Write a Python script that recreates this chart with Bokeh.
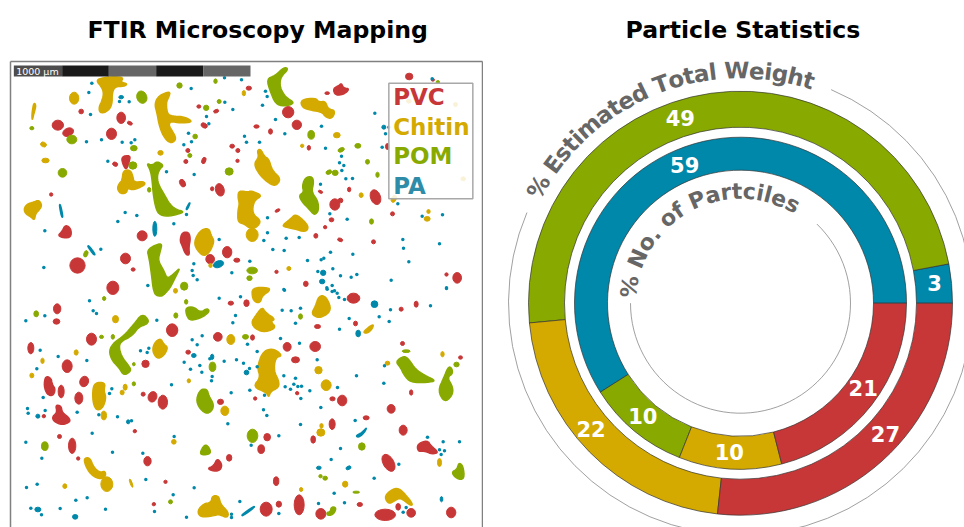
from math import cos, sin, radians, pi
from bokeh.core.properties import value
from bokeh.embed import file_html
from bokeh.layouts import row
from bokeh.models import ColumnDataSource, FixedTicker, LinearAxis, Range1d
from bokeh.plotting import figure
from bokeh.resources import INLINE

# ---- categories and colours
CATEGORIES = ["PA", "POM", "Chitin", "PVC"]
COLORS = {"PVC": "#c83737", "Chitin": "#d4aa00", "POM": "#88aa00", "PA": "#0088aa"}
LEGEND_ORDER = ["PVC", "Chitin", "POM", "PA"]
LEGEND_COLORS = ["#c83737", "#d4aa00", "#88aa00", "#2f8ca8"]
LEGEND_Y = [138, 228, 316, 405]

# ---- donut values (same order as CATEGORIES)
WEIGHT_VALUES = [3, 49, 22, 27]
COUNT_VALUES = [59, 10, 10, 21]
WEIGHT_LABEL_ANGLES = [5.9, 108, 220, 318]
COUNT_LABEL_ANGLES = [112, 229, 265.7, 325.4]
WEIGHT_TITLE = "% Estimated Total Weight"
COUNT_TITLE = "% No. of Partciles"

# ---- map tiles (units: 1/3 px, measured within each tile)
NW, NE, SW, SE = (0, 150), (720, 150), (0, 861), (720, 861)


def el(tile, items):
    return [(x + tile[0], y + tile[1], w, h, (rest[0] if rest else 0)) for x, y, w, h, *rest in items]


def dots(tile, items):
    return [(x + tile[0], y + tile[1]) for x, y in items]


def polys(tile, items):
    return [[(x + tile[0], y + tile[1]) for x, y in poly] for poly in items]


PVC_ELLIPSES = el(NW, [(172,224,34,30),(203,245,34,24,25),(242,183,14,14),(333,250,30,34),(362,202,26,34),(388,218,16,10,-25),(344,341,16,12,-25),(152,432,10,10),(546,398,16,24,25),(658,418,26,38,15),(635,415,10,12),(425,556,30,30),(231,645,46,46),(375,624,30,32),(398,657,12,10),(629,626,26,28),(680,605,28,34),(709,629,18,12),(337,712,36,40),(595,168,12,10),(647,182,16,10,20),(611,225,20,14,-30),(562,300,12,12),(556,333,12,12),(610,330,12,20,-20),(695,287,14,12),(712,300,12,12),(711,331,10,10)]) \
    + el(NE, [(143,185,34,34),(169,223,28,28),(260,128,14,8),(48,228,16,10),(90,243,12,16),(25,113,16,12),(205,292,10,14),(506,78,22,20),(577,88,10,8),(441,288,12,18),(405,440,30,46,20),(326,417,10,14),(240,424,14,8,-25),(283,462,30,34),(300,450,14,14),(273,508,14,12),(254,530,10,10),(456,490,12,12),(111,480,16,8,25),(226,556,12,14),(299,568,16,10,-20),(399,574,12,12),(108,664,10,10),(196,700,14,16),(650,682,26,32),(618,672,10,10)]) \
    + el(SW, [(170,64,22,30),(168,102,20,16),(273,155,30,36),(91,182,18,34),(515,128,34,38),(652,148,26,26),(563,194,14,12),(435,229,22,22),(200,236,30,38),(182,312,18,38),(251,282,26,32,-20),(235,332,24,36),(130,386,10,10),(428,320,12,12),(456,328,26,32,-20),(487,344,28,42),(660,343,18,16),(403,431,10,10),(177,447,12,12),(215,475,22,46),(233,513,10,10),(441,521,22,28),(495,583,10,10),(460,650,10,10),(686,511,16,20),(691,47,16,12)]) \
    + el(SE, [(18,47,16,20),(339,32,38,30),(527,50,12,18),(482,65,12,12),(231,117,18,12),(345,108,12,14),(36,150,12,16),(140,178,24,26),(224,177,32,30),(165,217,24,18),(486,168,12,12),(660,210,12,10),(512,315,10,16),(170,317,10,10),(44,333,10,10),(276,334,16,12),(305,339,28,32),(452,364,24,26),(377,391,18,12),(275,410,18,32),(218,456,14,22),(488,428,24,30),(80,449,20,22),(62,485,20,26),(444,526,32,56,30),(107,581,16,26),(632,675,28,32),(77,665,36,42),(115,650,16,18),(176,652,30,60),(241,679,30,32),(358,651,16,12),(434,682,62,34),(473,658,14,20),(512,676,26,26)])
PVC_POLYGONS = polys(NW, [[(362,318),(390,314),(386,335),(378,358),(368,345)],[(545,545),(565,545),(570,565),(565,590),(567,615),(555,612),(545,585),(538,570)],[(195,522),(212,535),(212,560),(190,563),(172,555),(183,545)]]) \
    + polys(NE, [[(277,115),(295,105),(303,98),(308,112),(328,115),(310,132),(285,135)]]) \
    + polys(SW, [[(135,265),(152,272),(155,290),(165,305),(158,325),(140,322),(130,295)],[(165,352),(182,355),(185,375),(205,390),(210,403),(185,413),(160,402),(155,388),(170,375)],[(650,512),(665,530),(660,548),(640,552),(620,543),(640,535)]]) \
    + polys(SE, [[(530,470),(560,458),(572,475),(595,495),(575,500),(550,490),(532,492)]])

CHITIN_ELLIPSES = el(NW, [(221,143,28,36),(129,282,18,14,-25),(135,330,22,14),(480,307,16,14),(630,645,10,12)]) \
    + el(NE, [(10,128,10,16),(289,254,20,16),(185,286,10,10),(35,553,36,40),(362,434,12,14),(145,654,12,12),(560,505,18,14),(564,483,10,12),(460,445,14,22,-25),(505,152,14,12),(645,162,12,12),(668,385,14,12)]) \
    + el(SW, [(525,10,12,14),(345,95,18,22),(227,195,12,16),(126,220,10,16),(94,264,12,14),(310,384,16,26),(374,299,12,18),(365,315,12,14),(691,156,24,30),(673,370,24,28),(565,280,10,12),(520,463,14,14),(193,596,12,14),(392,587,6,26,20),(319,590,36,44)]) \
    + el(SE, [(234,248,22,22),(257,293,30,32),(441,227,14,12),(606,200,10,16),(243,415,10,14),(241,435,24,22),(314,590,16,18),(182,606,10,12),(597,525,12,24)])
CHITIN_POLYGONS = polys(NW, [[(292,85),(330,78),(370,80),(360,95),(382,100),(370,108),(345,108),(335,125),(335,165),(318,185),(298,188),(295,170),(305,150),(310,125),(300,105),(290,95)],[(462,160),(475,135),(510,122),(505,140),(497,155),(500,190),(515,197),(545,198),(565,205),(575,215),(540,218),(510,212),(505,225),(515,240),(528,265),(515,278),(500,272),(485,250),(475,220),(470,190)],[(368,360),(390,358),(398,380),(400,395),(430,393),(435,402),(410,415),(392,418),(382,412),(378,428),(360,430),(350,415),(355,400),(365,390)],[(70,475),(80,460),(100,455),(115,448),(125,465),(115,480),(105,490),(102,510),(90,498),(75,490)],[(598,540),(625,532),(632,555),(642,572),(628,605),(610,618),(590,600),(580,575)],[(100,155),(107,165),(100,190),(95,212),(94,190)]]) \
    + polys(NE, [[(180,148),(225,142),(235,155),(255,152),(262,175),(285,180),(275,205),(255,200),(245,185),(215,180),(185,172)],[(50,300),(60,295),(72,318),(85,325),(95,360),(122,385),(105,408),(80,395),(55,370),(40,340),(55,320)],[(-5,420),(25,425),(30,420),(67,435),(40,450),(35,490),(62,510),(50,530),(30,535),(10,520),(-8,515),(-8,480),(-3,460),(-8,440)],[(125,525),(150,505),(165,490),(190,510),(205,530),(195,545),(160,535),(135,530)]]) \
    + polys(SW, [[(283,285),(315,285),(310,310),(317,330),(308,360),(290,370),(278,350),(276,310)],[(462,165),(480,152),(490,170),(503,180),(490,205),(470,215),(455,190)],[(250,512),(268,510),(280,540),(298,555),(315,550),(315,570),(295,575),(270,560),(255,535)],[(590,670),(610,648),(632,645),(635,625),(655,625),(660,650),(685,675),(680,692),(655,680),(640,685),(600,690)]]) \
    + polys(SE, [[(35,0),(85,0),(88,10),(65,25),(60,45),(45,45),(35,30)],[(45,85),(65,58),(75,75),(105,95),(90,102),(108,120),(75,135),(45,125),(32,105)],[(235,25),(255,25),(272,60),(262,80),(235,92),(212,80),(225,55)],[(367,135),(385,118),(400,110),(395,125),(380,138)],[(65,195),(90,183),(110,190),(125,205),(105,210),(100,250),(115,280),(115,300),(90,312),(85,330),(78,315),(37,298),(60,270),(50,240)],[(432,630),(445,612),(470,600),(490,615),(518,650),(510,655),(480,630),(462,640),(445,650)]])

POM_ELLIPSES = el(NW, [(424,140,30,38,20),(214,267,30,26),(186,367,26,26),(400,293,20,16),(397,345,24,22),(537,105,16,16),(617,172,16,16),(656,153,12,12),(645,92,10,14),(584,258,14,14),(568,315,12,12),(686,363,24,22),(446,418,10,14),(94,233,12,10),(256,610,12,20,-20),(551,707,22,24)]) \
    + el(NE, [(212,253,20,26),(302,298,20,12,25),(352,286,18,14),(381,334,12,14),(411,373,10,16),(265,365,18,12,25),(284,367,18,16),(393,513,12,16),(592,95,10,10),(35,660,32,20),(27,683,16,14)]) \
    + el(SW, [(107,79,14,18),(311,33,10,12),(303,148,12,10),(337,148,10,14),(526,84,12,16),(557,43,10,14),(400,289,10,12),(133,476,20,26),(636,238,20,28),(510,643,12,12),(400,230,8,10)]) \
    + el(SE, [(180,87,12,16),(15,148,18,14),(497,191,24,8),(648,231,16,14),(36,445,32,40),(364,477,20,22),(240,566,10,10),(254,572,14,12),(347,614,20,6)])
POM_POLYGONS = polys(NW, [[(438,338),(455,345),(470,332),(490,345),(478,355),(470,375),(473,400),(490,430),(510,465),(530,478),(552,484),(530,492),(500,498),(475,492),(465,470),(458,430),(455,390),(450,360)],[(440,600),(460,585),(485,578),(480,600),(472,630),(490,660),(500,685),(520,670),(540,650),(525,680),(510,710),(500,722),(485,738),(465,735),(458,715),(455,690),(450,650),(445,620)]]) \
    + polys(NE, [[(78,85),(105,75),(130,50),(145,55),(120,80),(118,110),(135,140),(165,158),(130,168),(105,160),(90,125)],[(195,380),(215,378),(220,395),(213,425),(232,450),(235,480),(222,495),(205,475),(185,455),(175,435),(190,425),(185,405)]]) \
    + polys(SW, [[(425,78),(445,97),(440,110),(415,118),(395,145),(365,160),(355,175),(362,205),(385,235),(393,250),(370,265),(355,240),(335,220),(325,190),(340,165),(370,145),(400,110)],[(555,60),(580,58),(600,75),(620,62),(628,72),(605,90),(570,100),(558,85)],[(600,305),(620,305),(625,325),(640,350),(635,370),(617,380),(595,360),(587,335)],[(597,498),(612,470),(625,478),(632,498),(610,503)]]) \
    + polys(SE, [[(465,222),(490,205),(505,215),(525,245),(550,262),(588,280),(560,285),(510,285),(490,262),(480,240)],[(622,240),(632,238),(638,258),(620,270),(638,300),(635,325),(612,345),(592,310),(610,270)],[(655,525),(668,535),(672,575),(650,575),(632,555),(650,545)],[(258,675),(270,672),(272,658),(288,660),(280,680),(262,685)]])

PA_ELLIPSES = el(NW, [(463,535,12,45),(654,641,32,20,20),(362,140,14,10)]) \
    + el(NE, [(248,667,16,16),(245,693,16,14),(430,230,12,12)]) \
    + el(SW, [(580,204,14,12),(635,208,10,16),(112,386,12,12),(383,403,10,12),(112,666,18,14),(224,688,16,14)]) \
    + el(SE, [(402,50,20,20),(353,138,14,20),(18,255,14,14),(235,541,14,10),(324,541,16,10,25),(603,635,8,16)])
PA_POLYGONS = polys(NW, [[(260,586),(266,586),(285,612),(280,614)],[(176,462),(180,462),(188,500),(183,500)],[(556,476),(567,456),(569,458),(560,478)]]) \
    + polys(SE, [[(345,445),(365,435),(380,418),(372,435),(355,450)],[(3,682),(40,656),(43,659),(6,686)]])
PA_DOTS = dots(NW, [(274,98),(265,126),(357,153),(386,154),(270,192),(258,274),(303,268),(365,275),(392,277),(403,268),(322,332),(498,364),(374,486),(409,495),(352,513),(133,541),(130,651),(301,596),(564,248),(573,274),(550,283),(581,372),(572,114),(618,198),(625,220),(673,155),(697,177),(672,82),(558,492),(520,520),(656,567),(580,640),(575,660),(578,675),(590,688),(694,667),(442,705)]) \
    + dots(NE, [(3,88),(75,122),(80,138),(66,164),(105,207),(12,257),(18,275),(57,275),(133,250),(243,227),(255,293),(303,317),(297,337),(310,345),(304,360),(316,385),(336,384),(403,188),(445,230),(435,250),(425,290),(240,401),(268,490),(320,506),(81,502),(81,547),(70,570),(137,563),(176,561),(97,597),(131,600),(270,605),(250,623),(242,628),(337,611),(487,567),(489,593),(597,580),(505,634),(28,632),(201,630),(232,663),(277,655),(300,676),(332,680),(349,672),(452,689),(618,712),(259,712),(275,705),(130,717),(472,460),(545,497),(606,493),(575,85)]) \
    + dots(SW, [(267,40),(76,100),(133,85),(469,98),(288,78),(278,70),(697,106),(705,84),(656,32),(720,28),(575,157),(605,145),(590,172),(119,188),(173,207),(259,219),(109,244),(420,190),(440,195),(445,182),(551,224),(628,214),(671,221),(708,217),(598,234),(604,254),(635,267),(633,280),(513,292),(692,316),(334,304),(327,318),(128,330),(134,369),(81,363),(83,377),(230,374),(295,382),(351,388),(393,400),(682,409),(275,437),(521,447),(76,464),(336,494),(427,497),(124,512),(436,576),(78,600),(110,590),(581,601),(518,622),(260,631),(226,638),(91,662),(123,682),(179,663),(315,665),(462,672),(558,689),(693,680),(693,690),(718,642),(570,245)]) \
    + dots(SE, [(132,8),(618,3),(260,5),(282,10),(290,17),(275,12),(295,30),(312,36),(125,68),(152,70),(180,62),(165,107),(326,93),(297,125),(450,67),(446,102),(120,153),(177,167),(21,170),(50,192),(9,227),(50,238),(27,243),(230,217),(348,265),(165,272),(160,290),(172,297),(183,296),(150,305),(181,333),(208,310),(134,298),(130,265),(430,287),(432,235),(241,360),(291,300),(69,367),(79,384),(180,411),(115,445),(344,399),(32,473),(272,516),(300,483),(281,617),(234,648),(312,646),(115,678),(475,530),(561,449),(608,463),(597,487),(612,490),(602,501),(657,463),(488,674),(497,660),(401,572),(72,323),(28,308),(570,55),(416,88)])

ELLIPSES = {"PVC": PVC_ELLIPSES, "Chitin": CHITIN_ELLIPSES, "POM": POM_ELLIPSES, "PA": PA_ELLIPSES}
POLYGONS = {"PVC": PVC_POLYGONS, "Chitin": CHITIN_POLYGONS, "POM": POM_POLYGONS, "PA": PA_POLYGONS}

# ---- scale bar
SCALE_LABEL = "1000 µm"
SCALE_EDGES = [185, 325, 467, 608, 750]
SCALE_FILLS = ["#1a1a1a", "#666666", "#1a1a1a", "#666666"]

# ---- bold DejaVu advances (em), for placing glyphs along the arcs
ADV = {"%": 1.002, " ": .348, "E": .683, "s": .595, "t": .478, "i": .343, "m": 1.042, "a": .675, "e": .678,
       "d": .716, "T": .682, "o": .687, "l": .343, "W": 1.103, "g": .716, "h": .712, "N": .837, ".": .380,
       "f": .435, "P": .733, "r": .493, "c": .593}
FONT = "DejaVu Sans"


def smooth(poly, rounds=2):
    for _ in range(rounds):
        out = []
        for i, (x0, y0) in enumerate(poly):
            x1, y1 = poly[(i + 1) % len(poly)]
            out += [(.75 * x0 + .25 * x1, .75 * y0 + .25 * y1), (.25 * x0 + .75 * x1, .25 * y0 + .75 * y1)]
        poly = out
    return poly


# ---------------------------------------------------------------- map
page_right, page_bottom = 964, 527
m = figure(frame_width=472, frame_height=466, x_range=Range1d(30, 1446), y_range=Range1d(page_bottom * 3, 183),
           x_axis_location="above", y_axis_location="left", output_backend="svg", toolbar_location=None,
           min_border_left=10, min_border_right=1, min_border_bottom=0, min_border_top=61,
           title="FTIR Microscopy Mapping")
m.title.text_font = FONT
m.title.text_font_style = "bold"
m.title.text_font_size = "23.6px"
m.title.text_color = "#000000"
m.title.offset = 77
m.title.standoff = 31
m.title.vertical_align = "top"
m.background_fill_color = "#ffffff"
m.outline_line_color = None
m.grid.visible = False
m.add_layout(LinearAxis(), "right")
for ax in m.axis:
    ax.ticker = FixedTicker(ticks=[])
    ax.major_tick_line_color = None
    ax.minor_tick_line_color = None
    ax.major_label_text_font_size = "0px"
    ax.axis_line_color = "#808080"
    ax.axis_line_width = 1.5

for name in LEGEND_ORDER:
    col = COLORS[name]
    e = ELLIPSES[name]
    m.ellipse(x=[i[0] for i in e], y=[i[1] for i in e], width=[i[2] for i in e], height=[i[3] for i in e],
              angle=[radians(i[4]) for i in e], fill_color=col, line_color=col, line_width=1)
    ps = [smooth(p) for p in POLYGONS[name]]
    m.patches(xs=[[q[0] for q in p] for p in ps], ys=[[q[1] for q in p] for p in ps],
              fill_color=col, line_color=col, line_width=1.5)
m.scatter(x=[d[0] for d in PA_DOTS], y=[d[1] for d in PA_DOTS], size=3.5, marker="circle",
          fill_color=COLORS["PA"], line_color=None)

# scale bar
sy0, sy1 = NW[1] + 45, NW[1] + 78
m.quad(left=[40], right=[185], top=[sy0], bottom=[sy1], fill_color="#4d4d4d", line_color=None)
m.quad(left=SCALE_EDGES[:-1], right=SCALE_EDGES[1:], top=[sy0] * 4, bottom=[sy1] * 4,
       fill_color=SCALE_FILLS, line_color=None)
m.text(x=[47], y=[(sy0 + sy1) / 2], text=[SCALE_LABEL], text_color="#ffffff", text_font=value(FONT),
       text_font_size="9.5px", text_baseline="middle", text_align="left")

# legend
m.quad(left=[NE[0] + 445], right=[NE[0] + 697], top=[NE[1] + 98], bottom=[NE[1] + 445], fill_color="#ffffff",
       fill_alpha=0.85, line_color="#a8a8a8", line_width=1.5)
m.text(x=[NE[0] + 458] * 4, y=[NE[1] + v for v in LEGEND_Y], text=LEGEND_ORDER, text_color=LEGEND_COLORS,
       text_font=value(FONT), text_font_style="bold", text_font_size="23px", text_baseline="middle",
       text_align="left")

# ---------------------------------------------------------------- donut
cy = 302.7
d = figure(frame_width=481, frame_height=466, x_range=Range1d(483 - 740, page_right - 740),
           y_range=Range1d(cy - page_bottom, cy - 61), output_backend="svg", toolbar_location=None,
           min_border_left=0, min_border_right=0, min_border_bottom=0, min_border_top=61,
           title="Particle Statistics")
d.title.text_font = FONT
d.title.text_font_style = "bold"
d.title.text_font_size = "23.6px"
d.title.text_color = "#000000"
d.title.offset = 142
d.title.standoff = 31
d.title.vertical_align = "top"
d.axis.visible = False
d.grid.visible = False
d.outline_line_color = None


def ring(vals, r0, r1):
    total = sum(vals)
    acc = 0
    starts, ends = [], []
    for v in vals:
        starts.append(acc / total * 2 * pi)
        acc += v
        ends.append(acc / total * 2 * pi)
    src = ColumnDataSource(dict(s=starts, e=ends, c=[COLORS[c] for c in CATEGORIES]))
    d.annular_wedge(x=0, y=0, inner_radius=r0, outer_radius=r1, start_angle="s", end_angle="e", fill_color="c",
                    line_color="#333333", line_width=0.7, source=src)


ring(WEIGHT_VALUES, 176, 212)
ring(COUNT_VALUES, 133, 166)


def labels(vals, angs, r):
    d.text(x=[r * cos(radians(a)) for a in angs], y=[r * sin(radians(a)) for a in angs], text=[str(v) for v in vals],
           text_color="#ffffff", text_font=value(FONT), text_font_style="bold", text_font_size="21px",
           text_align="center", text_baseline="middle")


labels(WEIGHT_VALUES, WEIGHT_LABEL_ANGLES, 195)
labels(COUNT_VALUES, COUNT_LABEL_ANGLES, 149)

d.arc(x=0, y=0, radius=232, start_angle=radians(157), end_angle=radians(67), direction="anticlock",
      line_color="#888888", line_width=0.8)
d.arc(x=0, y=0, radius=110, start_angle=radians(180), end_angle=radians(46), direction="anticlock",
      line_color="#888888", line_width=0.8)


def arc_text(s, r, a0, a1, size):
    total = sum(ADV[c] for c in s)
    acc = 0
    xs, ys, ang, chars = [], [], [], []
    for c in s:
        t = radians(a0 + (a1 - a0) * (acc + ADV[c] / 2) / total)
        acc += ADV[c]
        if c == " ":
            continue
        xs.append(r * cos(t)); ys.append(r * sin(t)); ang.append(t - pi / 2); chars.append(c)
    d.text(x=xs, y=ys, text=chars, angle=ang, text_color="#666666", text_font=value(FONT), text_font_style="bold",
           text_font_size=size, text_align="center", text_baseline="alphabetic")


arc_text(WEIGHT_TITLE, 233, 152.8, 71.6, "23px")
arc_text(COUNT_TITLE, 112, 177.5, 58.6, "22px")

page = row(m, d, spacing=0)
open("out.html", "w").write(file_html(page, INLINE))
